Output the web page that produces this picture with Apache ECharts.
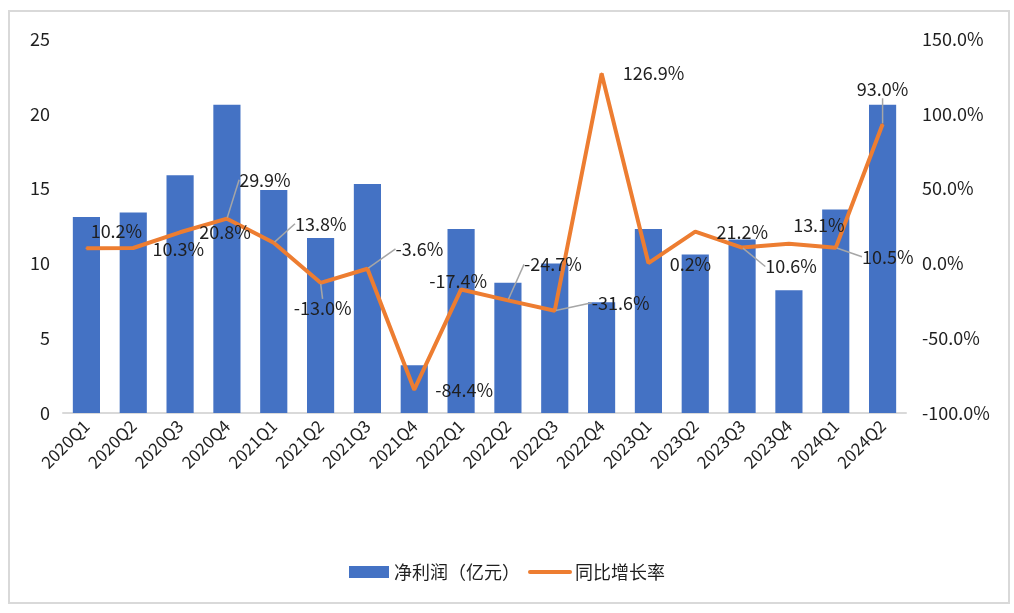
<!DOCTYPE html>
<html>
<head>
<meta charset="utf-8">
<script src="https://cdn.jsdelivr.net/npm/echarts@6/dist/echarts.min.js"></script>
<style>
html,body{margin:0;padding:0;background:#fff;}
#frame{position:absolute;left:8px;top:10px;width:998px;height:590px;border:2px solid #d9d9d9;box-sizing:content-box;}
#chart{position:absolute;left:0;top:0;width:1014px;height:613px;}
</style>
</head>
<body>
<div id="frame"></div>
<div id="chart"></div>
<script>
const categories = ['2020Q1','2020Q2','2020Q3','2020Q4','2021Q1','2021Q2','2021Q3','2021Q4','2022Q1','2022Q2','2022Q3','2022Q4','2023Q1','2023Q2','2023Q3','2023Q4','2024Q1','2024Q2'];
const netProfit = [13.1, 13.4, 15.9, 20.6, 14.9, 11.7, 15.3, 3.2, 12.3, 8.7, 10.0, 7.4, 12.3, 10.6, 11.6, 8.2, 13.6, 20.6];
const yoyGrowth = [10.2, 10.3, 20.8, 29.9, 13.8, -13.0, -3.6, -84.4, -17.4, -24.7, -31.6, 126.9, 0.2, 21.2, 10.6, 13.1, 10.5, 93.0];
const seriesNames = ['净利润（亿元）', '同比增长率'];

// label offsets (layout only)
const labelOffsets = [[30,-17],[45,1],[45,0],[38,-39],[47,-19],[2,25],[52,-20],[50,0],[-3,-8],[45,-36],[66,-8],[52,0],[42,1],[47,0],[49,19],[30,-19],[52,9],[0,-35]];
const withLeader = [3,4,5,6,9,10,14,16,17];

const FONT = '"Noto Sans CJK SC", "Noto Sans", sans-serif';
const TXT = '#1f1f1f';

const lineData = yoyGrowth.map((v, i) => ({
  value: v,
  labelLine: { show: withLeader.indexOf(i) >= 0 }
}));

const chart = echarts.init(document.getElementById('chart'));
chart.setOption({
  animation: false,
  textStyle: { fontFamily: FONT },
  grid: { left: 63, right: 108, top: 39, bottom: 200, containLabel: false },
  legend: {
    bottom: 27,
    left: 'center',
    itemGap: 8,
    itemWidth: 40,
    itemHeight: 12,
    textStyle: { fontSize: 18, color: TXT, fontFamily: FONT },
    data: [
      { name: seriesNames[0], icon: 'rect' },
      { name: seriesNames[1], itemStyle: { opacity: 0 }, lineStyle: { cap: 'round', width: 4 } }
    ]
  },
  xAxis: {
    type: 'category',
    data: categories,
    axisTick: { show: false },
    axisLine: { lineStyle: { color: '#d9d9d9', width: 2 } },
    axisLabel: { rotate: 45, fontSize: 17, color: TXT, margin: 10, interval: 0 }
  },
  yAxis: [
    {
      type: 'value', min: 0, max: 25, interval: 5,
      splitLine: { show: false },
      axisLine: { show: false }, axisTick: { show: false },
      axisLabel: { fontSize: 18, color: TXT, margin: 13 }
    },
    {
      type: 'value', min: -100, max: 150, interval: 50,
      splitLine: { show: false },
      axisLine: { show: false }, axisTick: { show: false },
      axisLabel: { fontSize: 18, color: TXT, margin: 16, formatter: v => v.toFixed(1) + '%' }
    }
  ],
  series: [
    {
      name: seriesNames[0],
      type: 'bar',
      data: netProfit,
      barWidth: '58%',
      itemStyle: { color: '#4472C4' }
    },
    {
      name: seriesNames[1],
      type: 'line',
      yAxisIndex: 1,
      data: lineData,
      symbol: 'circle',
      symbolSize: 2,
      showSymbol: true,
      itemStyle: { color: '#ED7D31' },
      lineStyle: { color: '#ED7D31', width: 4 },
      label: {
        show: true,
        position: 'inside',
        fontSize: 18,
        color: TXT,
        formatter: p => p.value.toFixed(1) + '%'
      },
      labelLine: { lineStyle: { color: '#a6a6a6', width: 1.5 } },
      labelLayout: p => ({ dx: labelOffsets[p.dataIndex][0], dy: labelOffsets[p.dataIndex][1] }),
      z: 3
    }
  ]
});
</script>
</body>
</html>
